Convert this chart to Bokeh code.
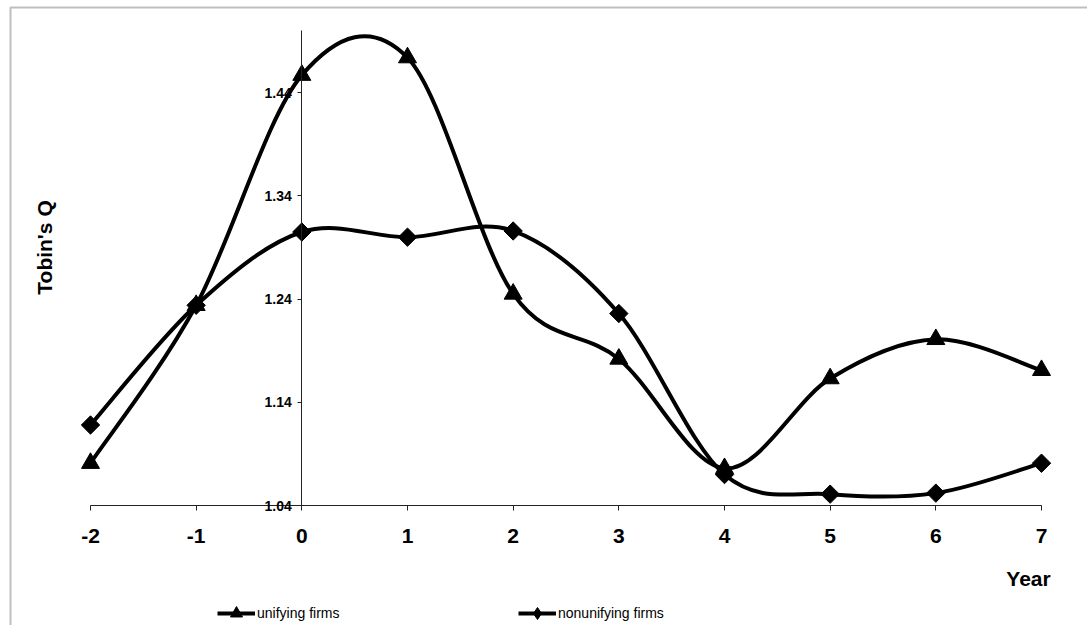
import numpy as np
from bokeh.plotting import figure
from bokeh.models import (LinearAxis, FixedTicker, Range1d, BoxAnnotation, Label,
                          Legend, LegendItem, ColumnDataSource, CustomJSTickFormatter)
from bokeh.embed import file_html
from bokeh.resources import INLINE

# Tobin's Q around the event year
years = [-2, -1, 0, 1, 2, 3, 4, 5, 6, 7]
unifying = [1.081, 1.234, 1.457, 1.474, 1.245, 1.182, 1.076, 1.163, 1.201, 1.171]
nonunifying = [1.118, 1.234, 1.305, 1.300, 1.306, 1.226, 1.070, 1.051, 1.052, 1.081]
y_ticks = [1.04, 1.14, 1.24, 1.34, 1.44]
y_top = 1.5

W, H = 1087, 625
# pixel placement of the axes on the canvas
px_left, px_right = 90.0, 1041.0      # x = -2 and x = 7
py_base, px_per_y = 505.0, 1032.0     # y = 1.04 and pixels per unit of Q
px_per_x = (px_right - px_left) / (years[-1] - years[0])

x0 = years[0] - px_left / px_per_x
x1 = x0 + W / px_per_x
y1 = y_ticks[0] + py_base / px_per_y
y0 = y1 - H / px_per_y


def dx(px):
    return x0 + px / px_per_x


def dy(py):
    return y1 - py / px_per_y


p = figure(width=W, height=H, output_backend="svg", toolbar_location=None,
           x_range=Range1d(x0, x1), y_range=Range1d(y0, y1),
           x_axis_type=None, y_axis_type=None, min_border=0)
p.outline_line_color = None
p.xgrid.visible = False
p.ygrid.visible = False
p.background_fill_color = "white"
p.border_fill_color = "white"

# chart-area frame (left and top edges visible)
p.add_layout(BoxAnnotation(left=dx(10), top=dy(7), right=x1 + 1, bottom=y0 - 1,
                           fill_color=None, line_color="#2a2a2a", line_width=2))

xaxis = LinearAxis(fixed_location=y_ticks[0], ticker=FixedTicker(ticks=years),
                   bounds=(years[0], years[-1]),
                   formatter=CustomJSTickFormatter(code="return String(tick)"))
xaxis.axis_line_color = "#222222"
xaxis.major_tick_line_color = "#222222"
xaxis.major_tick_out = 5
xaxis.major_tick_in = 0
xaxis.minor_tick_line_color = None
xaxis.major_label_text_font = "Liberation Sans"
xaxis.major_label_text_font_style = "bold"
xaxis.major_label_text_font_size = "21px"
xaxis.major_label_text_color = "black"
xaxis.major_label_standoff = 18
p.add_layout(xaxis, "below")

yaxis = LinearAxis(fixed_location=0, ticker=FixedTicker(ticks=y_ticks),
                   bounds=(y_ticks[0], y_top),
                   formatter=CustomJSTickFormatter(code="return tick.toFixed(2)"))
yaxis.axis_line_color = "#222222"
yaxis.major_tick_line_color = "#222222"
yaxis.major_tick_out = 4
yaxis.major_tick_in = 0
yaxis.minor_tick_line_color = None
yaxis.major_label_text_font = "Liberation Sans"
yaxis.major_label_text_font_style = "bold"
yaxis.major_label_text_font_size = "14px"
yaxis.major_label_text_color = "black"
yaxis.major_label_standoff = 6
p.add_layout(yaxis, "left")


def smooth_segments(xs, ys):
    """Cubic Bezier pieces through every point (Catmull-Rom style smoothing)."""
    xs = np.asarray(xs, float)
    ys = np.asarray(ys, float)
    n = len(xs)
    xp = np.concatenate([[xs[0]], xs, [xs[-1]]])
    yp = np.concatenate([[ys[0]], ys, [ys[-1]]])
    i = np.arange(n - 1)
    return dict(
        x0=xs[:-1], y0=ys[:-1], x1=xs[1:], y1=ys[1:],
        cx0=xs[i] + (xp[i + 2] - xp[i]) / 6, cy0=ys[i] + (yp[i + 2] - yp[i]) / 6,
        cx1=xs[i + 1] - (xp[i + 3] - xp[i + 1]) / 6, cy1=ys[i + 1] - (yp[i + 3] - yp[i + 1]) / 6,
    )


# label, values, marker, size, angle, legend marker, legend x position
series = [("unifying firms", unifying, "triangle", 18, 0.0, "triangle", 217),
          ("nonunifying firms", nonunifying, "square", 13, np.pi / 4, "diamond", 518)]

for label, vals, marker, msize, mangle, leg_marker, leg_x in series:
    curve = p.bezier(source=ColumnDataSource(smooth_segments(years, vals)),
                     x0="x0", y0="y0", x1="x1", y1="y1",
                     cx0="cx0", cy0="cy0", cx1="cx1", cy1="cy1",
                     line_color="black", line_width=4)
    p.scatter(years, vals, marker=marker, size=msize, angle=mangle,
              fill_color="black", line_color="black")
    # hidden twin of the markers, used only for the legend swatch
    key = p.scatter(years, vals, marker=leg_marker, size=msize,
                    fill_color="black", line_color="black", visible=False)
    leg = Legend(items=[LegendItem(label=label, renderers=[curve, key])],
                 location=(leg_x, -3), orientation="horizontal",
                 glyph_width=38, glyph_height=30, label_standoff=2,
                 padding=0, margin=0, border_line_color=None,
                 background_fill_alpha=0, inactive_fill_alpha=0,
                 label_text_font="Liberation Sans", label_text_font_size="14px",
                 label_text_color="black")
    p.add_layout(leg)

p.add_layout(Label(x=dx(44), y=dy(247), text="Tobin's Q", angle=np.pi / 2,
                   text_align="center", text_baseline="middle",
                   text_font="Liberation Sans", text_font_style="bold",
                   text_font_size="21px", text_color="black"))
p.add_layout(Label(x=dx(1028), y=dy(578), text="Year",
                   text_align="center", text_baseline="middle",
                   text_font="Liberation Sans", text_font_style="bold",
                   text_font_size="21px", text_color="black"))

open("out.html", "w").write(file_html(p, INLINE))
